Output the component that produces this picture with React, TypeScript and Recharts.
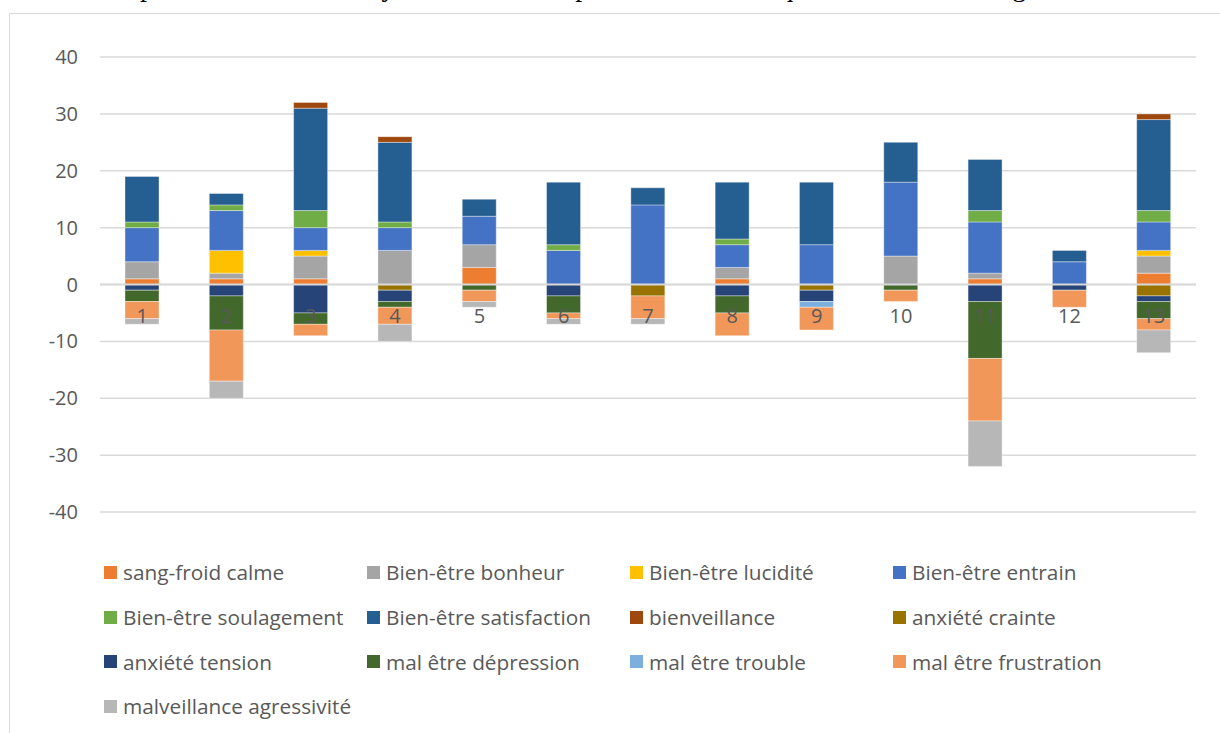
import React from 'react';
import { BarChart, Bar, XAxis, YAxis, CartesianGrid, ReferenceLine } from 'recharts';

const categories = ['1', '2', '3', '4', '5', '6', '7', '8', '9', '10', '11', '12', '13'];

// positive emotions (stacked upward)
const sangFroidCalme = [1, 1, 1, 0, 3, 0, 0, 1, 0, 0, 1, 0, 2];
const bienEtreBonheur = [3, 1, 4, 6, 4, 0, 0, 2, 0, 5, 1, 0, 3];
const bienEtreLucidite = [0, 4, 1, 0, 0, 0, 0, 0, 0, 0, 0, 0, 1];
const bienEtreEntrain = [6, 7, 4, 4, 5, 6, 14, 4, 7, 13, 9, 4, 5];
const bienEtreSoulagement = [1, 1, 3, 1, 0, 1, 0, 1, 0, 0, 2, 0, 2];
const bienEtreSatisfaction = [8, 2, 18, 14, 3, 11, 3, 10, 11, 7, 9, 2, 16];
const bienveillance = [0, 0, 1, 1, 0, 0, 0, 0, 0, 0, 0, 0, 1];
// negative emotions (stacked downward)
const anxieteCrainte = [0, 0, 0, -1, 0, 0, -2, 0, -1, 0, 0, 0, -2];
const anxieteTension = [-1, -2, -5, -2, 0, -2, 0, -2, -2, 0, -3, -1, -1];
const malEtreDepression = [-2, -6, -2, -1, -1, -3, 0, -3, 0, -1, -10, 0, -3];
const malEtreTrouble = [0, 0, 0, 0, 0, 0, 0, 0, -1, 0, 0, 0, 0];
const malEtreFrustration = [-3, -9, -2, -3, -2, -1, -4, -4, -4, -2, -11, -3, -2];
const malveillanceAgressivite = [-1, -3, 0, -3, -1, -1, -1, 0, 0, 0, -8, 0, -4];

const yTicks = [-40, -30, -20, -10, 0, 10, 20, 30, 40];

const series = [
    { key: 's1', name: 'sang-froid calme', values: sangFroidCalme, color: '#ED7D31' },
    { key: 's2', name: 'Bien-être bonheur', values: bienEtreBonheur, color: '#A5A5A5' },
    { key: 's3', name: 'Bien-être lucidité', values: bienEtreLucidite, color: '#FFC000' },
    { key: 's4', name: 'Bien-être entrain', values: bienEtreEntrain, color: '#4472C4' },
    { key: 's5', name: 'Bien-être soulagement', values: bienEtreSoulagement, color: '#70AD47' },
    { key: 's6', name: 'Bien-être satisfaction', values: bienEtreSatisfaction, color: '#255E91' },
    { key: 's7', name: 'bienveillance', values: bienveillance, color: '#9E480E' },
    { key: 's8', name: 'anxiété crainte', values: anxieteCrainte, color: '#997300' },
    { key: 's9', name: 'anxiété tension', values: anxieteTension, color: '#264478' },
    { key: 's10', name: 'mal être dépression', values: malEtreDepression, color: '#43682B' },
    { key: 's11', name: 'mal être trouble', values: malEtreTrouble, color: '#7CAFDD' },
    { key: 's12', name: 'mal être frustration', values: malEtreFrustration, color: '#F1975A' },
    { key: 's13', name: 'malveillance agressivité', values: malveillanceAgressivite, color: '#B7B7B7' },
];

const data = categories.map((c, i) => {
    const row: Record<string, number | string> = { cat: c };
    series.forEach(s => { row[s.key] = s.values[i]; });
    return row;
});

const FONT = '"Open Sans", sans-serif';
const TEXT = '#595959';
const CHART_W = 1220;
const CHART_H = 733;
const MARGIN = { top: 57, right: 24, bottom: 191, left: 0 };

// category labels sit just under the zero line, drawn over the bars
const renderCategoryTick = (props: any) => (
    <text x={props.x} y={323} textAnchor="middle" fill={TEXT} fontSize={20} fontFamily={FONT}>
        {props.payload.value}
    </text>
);

export default function App() {
    return (
        <div style={{ position: 'fixed', left: 0, top: 0, width: 1220, height: 733, overflow: 'hidden', background: '#fff' }}>
            {/* cut-off line of the surrounding document (only the descenders show) */}
            <div style={{ position: 'absolute', left: 0, top: 0, width: 1220, height: 12, overflow: 'hidden' }}>
                <div style={{ position: 'absolute', top: -27, right: 1090, whiteSpace: 'nowrap', fontFamily: '"Liberation Serif", serif', fontSize: 28, lineHeight: '28px', color: '#000' }}>
                    émotions
                </div>
                <div style={{ position: 'absolute', top: -27, left: 140, whiteSpace: 'nowrap', fontFamily: '"Liberation Serif", serif', fontSize: 28, lineHeight: '28px', color: '#000', letterSpacing: 0.6 }}>
                    positives sont en moyenne deux fois plus nombreuses que les émotions négatives.
                </div>
            </div>
            <div style={{ position: 'absolute', left: 9, top: 13, width: 1230, height: 740, border: '1.5px solid #D9D9D9' }} />

            <div style={{ position: 'absolute', left: 0, top: 0 }}>
                <BarChart width={CHART_W} height={CHART_H} data={data} stackOffset="sign" barSize={34} margin={MARGIN}>
                    <CartesianGrid vertical={false} stroke="#D9D9D9" strokeWidth={1.5} />
                    <YAxis
                        type="number"
                        domain={[-40, 40]}
                        ticks={yTicks}
                        width={100}
                        axisLine={false}
                        tickLine={false}
                        tickSize={0}
                        tickMargin={22}
                        tick={{ fill: TEXT, fontSize: 20, fontFamily: FONT }}
                        interval={0}
                    />
                    <XAxis dataKey="cat" height={30} axisLine={false} tickLine={false} tick={false} />
                    {series.map(s => (
                        <Bar
                            key={s.key}
                            dataKey={s.key}
                            name={s.name}
                            stackId="a"
                            fill={s.color}
                            stroke="#ffffff"
                            strokeOpacity={0.5}
                            strokeWidth={0.75}
                            isAnimationActive={false}
                        />
                    ))}
                    <ReferenceLine y={0} stroke="#D9D9D9" strokeWidth={2} />
                </BarChart>
            </div>

            {/* same layout again, only for the category labels so they sit on top of the bars */}
            <div style={{ position: 'absolute', left: 0, top: 0, pointerEvents: 'none' }}>
                <BarChart width={CHART_W} height={CHART_H} data={data} margin={MARGIN}>
                    <YAxis type="number" domain={[-40, 40]} ticks={yTicks} width={100} axisLine={false} tickLine={false} tick={false} />
                    <XAxis
                        dataKey="cat"
                        height={30}
                        axisLine={false}
                        tickLine={false}
                        interval={0}
                        tick={renderCategoryTick}
                    />
                </BarChart>
            </div>

            {/* legend, 4 columns like the original */}
            <div
                style={{
                    position: 'absolute',
                    left: 104,
                    top: 550,
                    display: 'grid',
                    gridTemplateColumns: 'repeat(4, 263px)',
                    rowGap: 0,
                    fontFamily: FONT,
                    fontSize: 20.8,
                    color: TEXT,
                }}
            >
                {series.map(s => (
                    <div key={s.key} style={{ display: 'flex', alignItems: 'center', height: 44.7, whiteSpace: 'nowrap' }}>
                        <span style={{ width: 13, height: 13, background: s.color, marginRight: 6, flexShrink: 0 }} />
                        <span>{s.name}</span>
                    </div>
                ))}
            </div>
        </div>
    );
}
